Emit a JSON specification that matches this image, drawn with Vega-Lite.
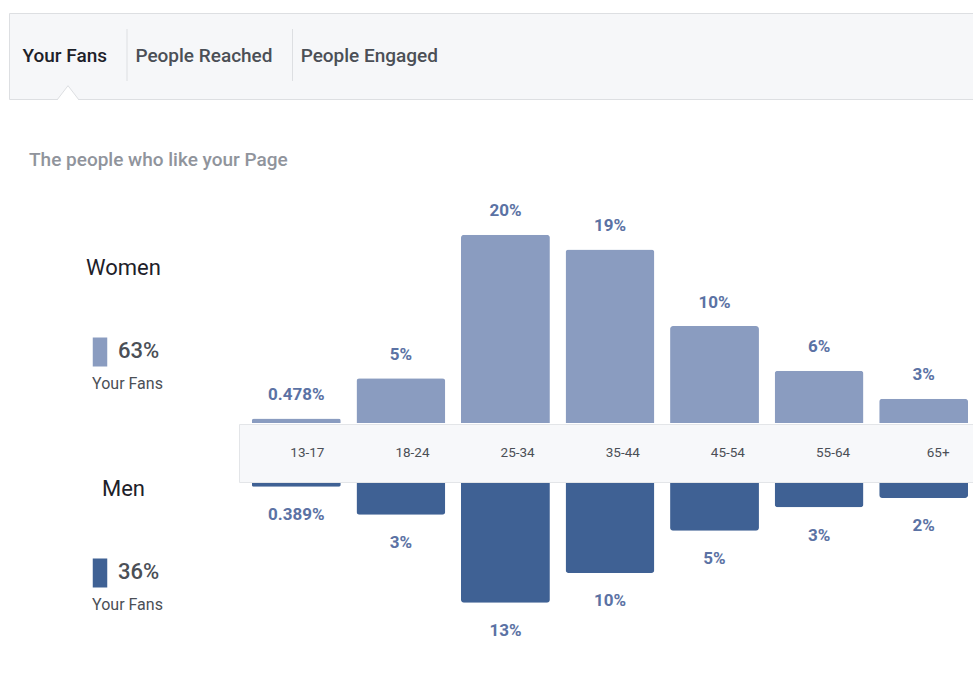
{
  "$schema": "https://vega.github.io/schema/vega-lite/v6.json",
  "background": "white",
  "padding": {"left": 8, "top": 12, "right": 0, "bottom": 0},
  "config": {
    "view": {"stroke": null},
    "font": "Roboto, Liberation Sans, sans-serif",
    "text": {"font": "Roboto, Liberation Sans, sans-serif"},
    "title": {"font": "Roboto, Liberation Sans, sans-serif"}
  },
  "datasets": {
    "ages": [
      {"age": "13-17", "women": 0.478, "men": 0.389, "womenLabel": "0.478%", "menLabel": "0.389%"},
      {"age": "18-24", "women": 4.8, "men": 3.4, "womenLabel": "5%", "menLabel": "3%"},
      {"age": "25-34", "women": 20.2, "men": 12.8, "womenLabel": "20%", "menLabel": "13%"},
      {"age": "35-44", "women": 18.6, "men": 9.6, "womenLabel": "19%", "menLabel": "10%"},
      {"age": "45-54", "women": 10.4, "men": 5.1, "womenLabel": "10%", "menLabel": "5%"},
      {"age": "55-64", "women": 5.6, "men": 2.6, "womenLabel": "6%", "menLabel": "3%"},
      {"age": "65+", "women": 2.6, "men": 1.6, "womenLabel": "3%", "menLabel": "2%"}
    ],
    "tabs": [
      {"tab": "Your Fans", "active": true},
      {"tab": "People Reached", "active": false},
      {"tab": "People Engaged", "active": false}
    ],
    "genders": [
      {"gender": "Women", "share": "63%", "sub": "Your Fans"},
      {"gender": "Men", "share": "36%", "sub": "Your Fans"}
    ]
  },
  "spacing": 48,
  "vconcat": [
    {
      "width": 965,
      "height": 86,
      "view": {"fill": "#f6f7f9", "stroke": "#dddfe2"},
      "data": {"name": "tabs"},
      "encoding": {
        "x": {
          "field": "tab",
          "type": "nominal",
          "sort": null,
          "scale": {"type": "point", "domain": ["Your Fans", "People Reached", "People Engaged"], "range": [98, 429], "padding": 0},
          "axis": null
        }
      },
      "layer": [
        {
          "mark": {"type": "text", "align": "right", "fontSize": 19, "fontWeight": 500},
          "encoding": {
            "text": {"field": "tab"},
            "color": {"condition": {"test": "datum.active", "value": "#1d2129"}, "value": "#4b4f56"}
          }
        },
        {
          "transform": [{"filter": "datum.tab !== 'People Engaged'"}],
          "mark": {"type": "rule", "xOffset": 20, "color": "#dddfe2", "strokeWidth": 1},
          "encoding": {"y": {"value": 16}, "y2": {"value": 68}}
        },
        {
          "transform": [{"filter": "datum.active"}],
          "mark": {
            "type": "point",
            "shape": "M -1 1 L 0 -0.3 L 1 1",
            "size": 484,
            "filled": true,
            "fill": "white",
            "stroke": "#dddfe2",
            "strokeWidth": 1,
            "opacity": 1,
            "xOffset": -39,
            "yOffset": 33
          },
          "encoding": {}
        }
      ]
    },
    {
      "title": {
        "text": "The people who like your Page",
        "anchor": "start",
        "fontSize": 19,
        "fontWeight": 500,
        "color": "#90949c",
        "offset": 19,
        "dx": 20
      },
      "spacing": 0,
      "hconcat": [
        {
          "width": 229,
          "height": 499,
          "data": {"name": "genders"},
          "encoding": {
            "y": {
              "field": "gender",
              "type": "nominal",
              "sort": null,
              "scale": {"type": "point", "domain": ["Women", "Men"], "padding": 0.629},
              "axis": null
            }
          },
          "layer": [
            {
              "mark": {"type": "text", "fontSize": 22, "color": "#1d2129", "dy": -60},
              "encoding": {"text": {"field": "gender"}}
            },
            {
              "mark": {
                "type": "point",
                "shape": "M -0.5 -1 L 0.5 -1 L 0.5 1 L -0.5 1 Z",
                "size": 841,
                "filled": true,
                "opacity": 1,
                "xOffset": -23.5,
                "yOffset": 24
              },
              "encoding": {
                "color": {
                  "field": "gender",
                  "type": "nominal",
                  "scale": {"domain": ["Women", "Men"], "range": ["#8a9cc0", "#3f6194"]},
                  "legend": null
                }
              }
            },
            {
              "mark": {"type": "text", "fontSize": 22, "fontWeight": 500, "align": "left", "dx": -5.5, "dy": 23, "color": "#4b4f56"},
              "encoding": {"text": {"field": "share"}}
            },
            {
              "mark": {"type": "text", "fontSize": 16, "dx": 4, "dy": 56, "color": "#4b4f56"},
              "encoding": {"text": {"field": "sub"}}
            }
          ]
        },
        {
          "spacing": 0,
          "vconcat": [
            {
              "width": 736,
              "height": 234,
              "data": {"name": "ages"},
              "encoding": {
                "x": {
                  "field": "age",
                  "type": "nominal",
                  "sort": null,
                  "scale": {"paddingInner": 0.15, "paddingOuter": 0.095, "align": 0.65},
                  "axis": null
                }
              },
              "layer": [
                {
                  "mark": {"type": "bar", "color": "#8a9cc0", "cornerRadiusTopLeft": 3, "cornerRadiusTopRight": 3},
                  "encoding": {
                    "y": {"field": "women", "type": "quantitative", "scale": {"domain": [0, 25.1], "nice": false}, "axis": null}
                  }
                },
                {
                  "mark": {"type": "text", "color": "#5b72a4", "fontSize": 17, "fontWeight": "bold", "baseline": "alphabetic", "dy": -18.5},
                  "encoding": {
                    "y": {"field": "women", "type": "quantitative", "axis": null},
                    "text": {"field": "womenLabel"}
                  }
                }
              ]
            },
            {
              "width": 736,
              "height": 58,
              "view": {"fill": "#f7f8fa", "stroke": "#e3e5e8"},
              "data": {"name": "ages"},
              "mark": {"type": "text", "fontSize": 13.5, "color": "#4b4f56"},
              "encoding": {
                "x": {
                  "field": "age",
                  "type": "nominal",
                  "sort": null,
                  "scale": {"paddingInner": 0.15, "paddingOuter": 0.095, "align": 0.65},
                  "axis": null
                },
                "text": {"field": "age"}
              }
            },
            {
              "width": 736,
              "height": 206,
              "data": {"name": "ages"},
              "encoding": {
                "x": {
                  "field": "age",
                  "type": "nominal",
                  "sort": null,
                  "scale": {"paddingInner": 0.15, "paddingOuter": 0.095, "align": 0.65},
                  "axis": null
                }
              },
              "layer": [
                {
                  "mark": {"type": "bar", "color": "#3f6194", "cornerRadiusBottomLeft": 3, "cornerRadiusBottomRight": 3},
                  "encoding": {
                    "y": {"field": "men", "type": "quantitative", "scale": {"domain": [0, 22], "nice": false, "reverse": true}, "axis": null}
                  }
                },
                {
                  "mark": {"type": "text", "color": "#5b72a4", "fontSize": 17, "fontWeight": "bold", "baseline": "alphabetic", "dy": 33.5},
                  "encoding": {
                    "y": {"field": "men", "type": "quantitative", "axis": null},
                    "text": {"field": "menLabel"}
                  }
                }
              ]
            }
          ]
        }
      ]
    }
  ]
}
